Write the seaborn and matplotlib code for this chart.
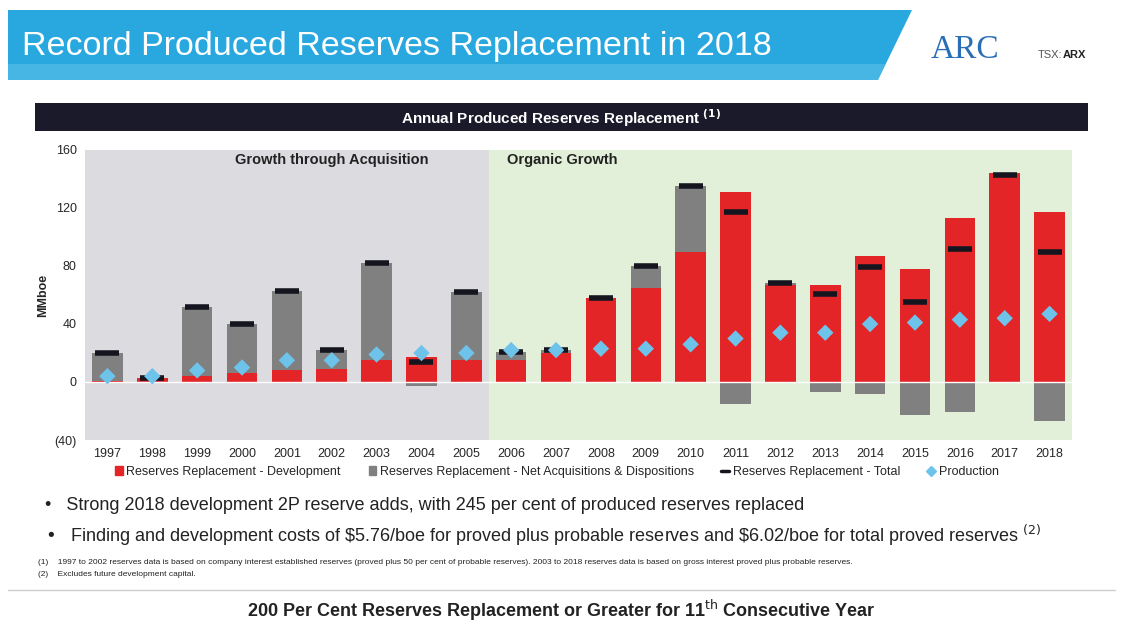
import matplotlib
matplotlib.use("Agg")
import matplotlib.pyplot as plt
import seaborn as sns
import numpy as np
from matplotlib.patches import Polygon, Rectangle
from matplotlib.lines import Line2D

years = [str(y) for y in range(1997, 2019)]
dev = [1, 3, 4, 6, 8, 9, 15, 17, 15, 15, 20, 58, 65, 90, 131, 67, 67, 87, 78, 113, 144, 117]
acq = [19, 0, 48, 34, 55, 13, 67, -3, 47, 6, 2, 0, 15, 45, -15, 1, -7, -8, -23, -21, -1, -27]
total = [20, 3, 52, 40, 63, 22, 82, 14, 62, 21, 22, 58, 80, 135, 117, 68, 61, 79, 55, 92, 143, 90]
production = [4, 4, 8, 10, 15, 15, 19, 20, 20, 22, 22, 23, 23, 26, 30, 34, 34, 40, 41, 43, 44, 47]
yticks = [-40, 0, 40, 80, 120, 160]
ytick_labels = ["(40)", "0", "40", "80", "120", "160"]

sns.set_theme(style="white")
plt.rcParams['font.family'] = ['Liberation Sans', 'DejaVu Sans']

W, H = 1122, 642
fig = plt.figure(figsize=(W/100, H/100), dpi=100)

def fx(px): return px / W
def fy(py): return 1 - py / H

# Banner
fig.patches.append(Polygon([[fx(8), fy(10)], [fx(912), fy(10)], [fx(878), fy(80)], [fx(8), fy(80)]],
                           closed=True, transform=fig.transFigure, facecolor="#29a8df", edgecolor="none"))
fig.patches.append(Polygon([[fx(8), fy(64)], [fx(885), fy(64)], [fx(878), fy(80)], [fx(8), fy(80)]],
                           closed=True, transform=fig.transFigure, facecolor="#5cc0ea", edgecolor="none", alpha=0.6))
fig.text(fx(22), fy(47), "Record Produced Reserves Replacement in 2018", color="white",
         fontsize=24.5, va="center", ha="left")
fig.text(fx(965), fy(50), "ARC", color="#2a6fb5", fontsize=24, va="center", ha="center", family="Liberation Serif")
fig.text(fx(1038), fy(55), "TSX:", color="#555555", fontsize=8, va="center", ha="left")
fig.text(fx(1063), fy(55), "ARX", color="#222222", fontsize=8, va="center", ha="left", weight="bold")

# Dark header bar
fig.patches.append(Rectangle((fx(35), fy(131)), fx(1088-35), fy(103)-fy(131), transform=fig.transFigure,
                             facecolor="#1b1a2b", edgecolor="none"))
fig.text(fx(561), fy(118), r"Annual Produced Reserves Replacement $^{\mathbf{(1)}}$", color="white",
         fontsize=11, weight="bold", va="center", ha="center")

ax = fig.add_axes([fx(85), fy(440), fx(1072-85), fy(150)-fy(440)])
x = np.arange(len(years))
ax.axvspan(-0.5, 8.5, color="#dcdce0", zorder=0)
ax.axvspan(8.5, len(years)-0.5, color="#e2efd9", zorder=0)

bottoms = [d if a > 0 else 0 for d, a in zip(dev, acq)]
sns.barplot(x=years, y=dev, color="#e32527", width=0.68, ax=ax, saturation=1, zorder=2,
            edgecolor="none", linewidth=0)
ax.bar(x, acq, bottom=bottoms, color="#808080", width=0.68, zorder=2, edgecolor="none", linewidth=0)
ax.axhline(0, color="white", lw=1, zorder=2.5)
ax.scatter(x, total, marker="_", s=300, linewidths=4, color="#15151f", zorder=3)
sns.scatterplot(x=x, y=production, marker="D", s=70, color="#6ec3ea", edgecolor="none", ax=ax, zorder=4)

ax.set_xlim(-0.5, len(years)-0.5)
ax.set_ylim(-40, 160)
ax.set_yticks(yticks)
ax.set_yticklabels(ytick_labels, fontsize=9)
ax.set_xticks(x)
ax.set_xticklabels(years, fontsize=9)
ax.tick_params(axis="both", length=0, pad=6)
ax.set_ylabel("MMboe", fontsize=9, weight="bold")
for s in ax.spines.values():
    s.set_visible(False)
ax.text(5.0, 153, "Growth through Acquisition", fontsize=10.5, weight="bold", ha="center", va="center", color="#222")
ax.text(8.9, 153, "Organic Growth", fontsize=10.5, weight="bold", ha="left", va="center", color="#222")

handles = [Rectangle((0, 0), 1, 1, color="#e32527"), Rectangle((0, 0), 1, 1, color="#808080"),
           Line2D([], [], color="#15151f", lw=2.5), Line2D([], [], marker="D", color="#6ec3ea", lw=0, markersize=5)]
labels = ["Reserves Replacement - Development", "Reserves Replacement - Net Acquisitions & Dispositions",
          "Reserves Replacement - Total", "Production"]
fig.legend(handles, labels, loc="center", bbox_to_anchor=(fx(557), fy(472)), ncol=4, frameon=False,
           fontsize=9, handlelength=0.6, handletextpad=0.3, columnspacing=2.2)

fig.text(fx(45), fy(505), "•   Strong 2018 development 2P reserve adds, with 245 per cent of produced reserves replaced",
         fontsize=13, va="center", color="#222")
fig.text(fx(45), fy(535), "•   Finding and development costs of \\$5.76/boe for proved plus probable reserves and \\$6.02/boe for total proved reserves $^{(2)}$",
         fontsize=13, va="center", color="#222")
fig.text(fx(38), fy(563), "(1)    1997 to 2002 reserves data is based on company interest established reserves (proved plus 50 per cent of probable reserves). 2003 to 2018 reserves data is based on gross interest proved plus probable reserves.",
         fontsize=6, va="center", color="#222")
fig.text(fx(38), fy(574), "(2)    Excludes future development capital.", fontsize=6, va="center", color="#222")
fig.add_artist(Line2D([fx(8), fx(1115)], [fy(590), fy(590)], color="#cccccc", lw=1, transform=fig.transFigure))
fig.text(fx(561), fy(610), "200 Per Cent Reserves Replacement or Greater for 11$^{\\mathrm{th}}$ Consecutive Year",
         fontsize=13, weight="bold", ha="center", va="center", color="#222")

fig.savefig("out.png", dpi=100)
